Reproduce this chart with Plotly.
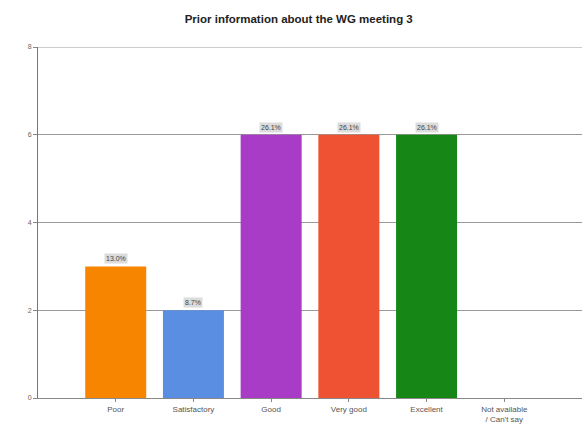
import plotly.graph_objects as go

title = "Prior information about the WG meeting 3"
categories = ["Poor", "Satisfactory", "Good", "Very good", "Excellent", "Not available<br>/ Can't say"]
counts = [3, 2, 6, 6, 6, 0]
percent_labels = ["13.0%", "8.7%", "26.1%", "26.1%", "26.1%", ""]
bar_colors = ["#F78500", "#5A8EE2", "#A83CC6", "#EE5233", "#168716", "#999999"]
y_ticks = [0, 2, 4, 6, 8]

font_family = "Liberation Sans, Arial, sans-serif"

fig = go.Figure()
fig.add_trace(go.Bar(
    x=list(range(len(categories))),
    y=counts,
    marker=dict(color=bar_colors, line=dict(width=0)),
    hoverinfo="skip",
    showlegend=False,
))

for i, (v, lab) in enumerate(zip(counts, percent_labels)):
    if v > 0 and lab:
        fig.add_annotation(
            x=i, y=v, text=lab, showarrow=False,
            yanchor="bottom", yshift=2,
            font=dict(family=font_family, size=7, color="#444444"),
            bgcolor="#DCDCDC", borderpad=1,
        )

# top gridline at the axis maximum
fig.add_shape(type="line", xref="paper", yref="y", x0=0, x1=1,
              y0=y_ticks[-1], y1=y_ticks[-1], line=dict(color="#999999", width=1))

fig.update_layout(
    width=588, height=430,
    margin=dict(l=38, r=6, t=47, b=29),
    paper_bgcolor="white", plot_bgcolor="white",
    bargap=0.215,
    title=dict(text="<b>" + title + "</b>", x=0.508, xanchor="center", y=0.956, yanchor="middle",
               font=dict(family=font_family, size=11.5, color="#222222")),
    font=dict(family=font_family, size=8, color="#555555"),
)
fig.update_xaxes(
    range=[-1, len(categories)],
    tickvals=list(range(len(categories))), ticktext=categories,
    showgrid=False, showline=True, linecolor="#888888", linewidth=1,
    ticks="outside", ticklen=3, tickcolor="#888888",
    tickfont=dict(size=8, color="#555555"), zeroline=False,
)
fig.update_yaxes(
    range=[0, 8], tickvals=y_ticks,
    showgrid=True, gridcolor="#999999", gridwidth=1,
    showline=True, linecolor="#777777", linewidth=1,
    ticks="outside", ticklen=4, tickcolor="#888888",
    tickfont=dict(size=7, color="#666666"), zeroline=False,
)

fig.write_html("out.html")
